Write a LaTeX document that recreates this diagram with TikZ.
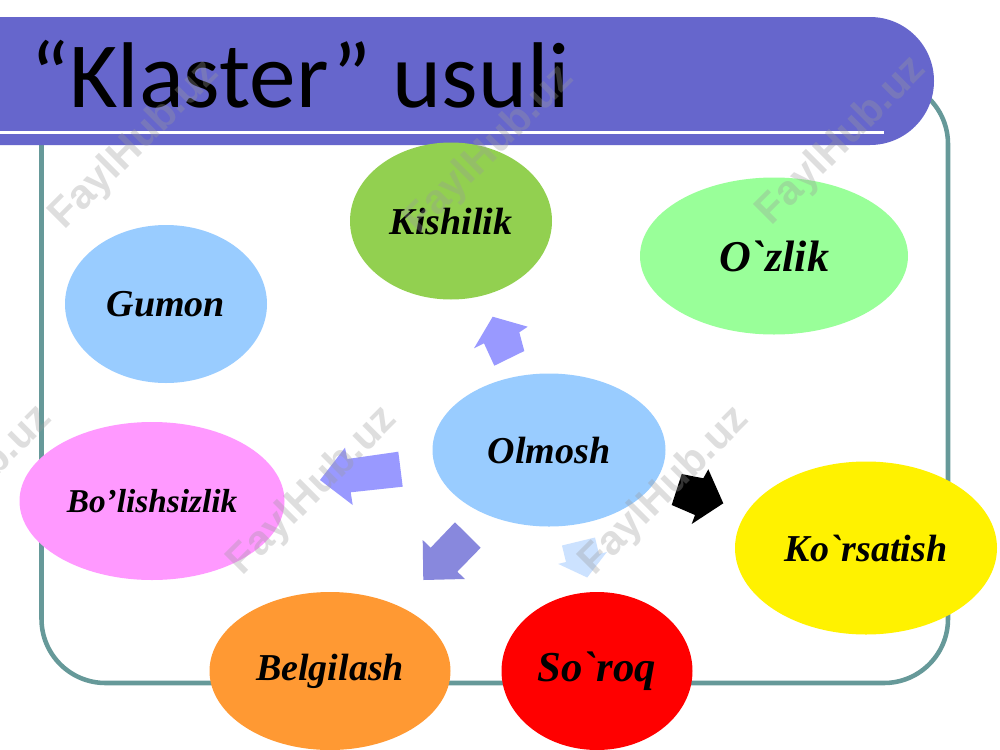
\documentclass[tikz,border=0pt]{standalone}
\usepackage{fontspec}
\newfontfamily\titlefont{Carlito}
\newfontfamily\tnr{Liberation Serif}
\newfontfamily\wmfont{Liberation Sans}
\usetikzlibrary{shapes.geometric}
\definecolor{bannerc}{RGB}{102,102,204}
\definecolor{framec}{RGB}{102,153,153}
\definecolor{kisc}{RGB}{146,208,80}
\definecolor{ozlc}{RGB}{153,255,153}
\definecolor{bluec}{RGB}{153,204,255}
\definecolor{pinkc}{RGB}{255,153,255}
\definecolor{orangec}{RGB}{255,153,51}
\definecolor{arrowa}{RGB}{153,153,255}
\definecolor{arrowb}{RGB}{136,136,221}
\definecolor{arrowc}{RGB}{204,226,255}
\definecolor{wmc}{RGB}{155,155,155}
\begin{document}
\begin{tikzpicture}[x=0.75pt,y=-0.75pt,
  oval/.style={ellipse, inner sep=0pt, text=black,
    font=\tnr\bfseries\itshape\fontsize{28.5}{32}\selectfont},
  blockarrow/.style={draw=none},
  wm/.style={rotate=45, text=wmc, text opacity=0.33, inner sep=0pt,
    font=\wmfont\bfseries\fontsize{31}{34}\selectfont}]
\useasboundingbox (0,0) rectangle (1000,750);
\fill[white] (0,0) rectangle (1000,750);

% frame
\draw[framec, line width=3.4pt, rounded corners=48pt] (41.5,80) rectangle (948,683);

% title banner
\fill[bannerc, rounded corners=48pt] (-80,17) rectangle (934,145);
\draw[white, line width=2.6pt] (-5,132.5) -- (884,132.5);
\node[anchor=base west, inner sep=0pt, text=black,
  font=\titlefont\fontsize{70}{84}\selectfont] (title) at (30,107) {“Klaster” usuli};

% ellipses
\node[oval, fill=kisc, minimum width=151.5pt, minimum height=117.75pt] (kis) at (451,221) {Kishilik};
\node[oval, fill=ozlc, minimum width=201pt, minimum height=117.75pt,
  font=\tnr\bfseries\itshape\fontsize{33}{36}\selectfont] (ozl) at (774,256) {O`zlik};
\node[oval, fill=bluec, minimum width=151.5pt, minimum height=118.5pt] (gum) at (166,304) {Gumon};
\node[oval, fill=pinkc, minimum width=198.75pt, minimum height=118.5pt,
  font=\tnr\bfseries\itshape\fontsize{25}{28}\selectfont] (bol) at (152,501) {Bo’lishsizlik};
\node[oval, fill=bluec, minimum width=174.75pt, minimum height=114.75pt] (olm) at (549,450) {Olmosh};
\node[oval, fill=yellow, minimum width=196.5pt, minimum height=129.75pt] (kor) at (866,548) {Ko`rsatish};
\node[oval, fill=orangec, minimum width=180.75pt, minimum height=118.5pt] (bel) at (330,671) {Belgilash};
\node[oval, fill=red, minimum width=143.25pt, minimum height=118.5pt,
  font=\tnr\bfseries\itshape\fontsize{32}{35}\selectfont] (sor) at (597,671) {So`roq};

% block arrows
\fill[arrowa, blockarrow] (492.7,316.7) -- (527.7,326.7) -- (519.3,332.3) -- (524.3,351)
  -- (494.3,365.7) -- (484,343.3) -- (474,348.3) -- cycle;
\fill[arrowa, blockarrow] (320,480) -- (345,447.7) -- (347.3,459) -- (398.3,451.7)
  -- (402.7,486.7) -- (350.7,492.3) -- (352.7,505) -- cycle;
\fill[arrowb, blockarrow] (423.3,580) -- (422.7,540) -- (430.7,547.7) -- (455,522.3)
  -- (480.7,547.7) -- (457.3,571.7) -- (465,579) -- cycle;
\fill[arrowc, blockarrow] (562.0,545.5) -- (595.0,537.5) -- (599.0,554.0) -- (606.8,552.1)
  -- (587.2,577.5) -- (558.2,563.9) -- (566.0,562.0) -- cycle;
\fill[black, blockarrow] (671.7,505) -- (681.7,474) -- (703.3,478.3) -- (708.3,469.3)
  -- (723.3,503.3) -- (691.7,524) -- (695,515) -- cycle;

% watermarks
\node[wm] (wm1) at (135,145) {FaylHub.uz};
\node[wm] (wm2) at (490,150) {FaylHub.uz};
\node[wm] (wm3) at (842,141) {FaylHub.uz};
\node[wm] (wm4) at (-32,490) {FaylHub.uz};
\node[wm] (wm5) at (313,491) {FaylHub.uz};
\node[wm] (wm6) at (665,491) {FaylHub.uz};
\end{tikzpicture}
\end{document}
